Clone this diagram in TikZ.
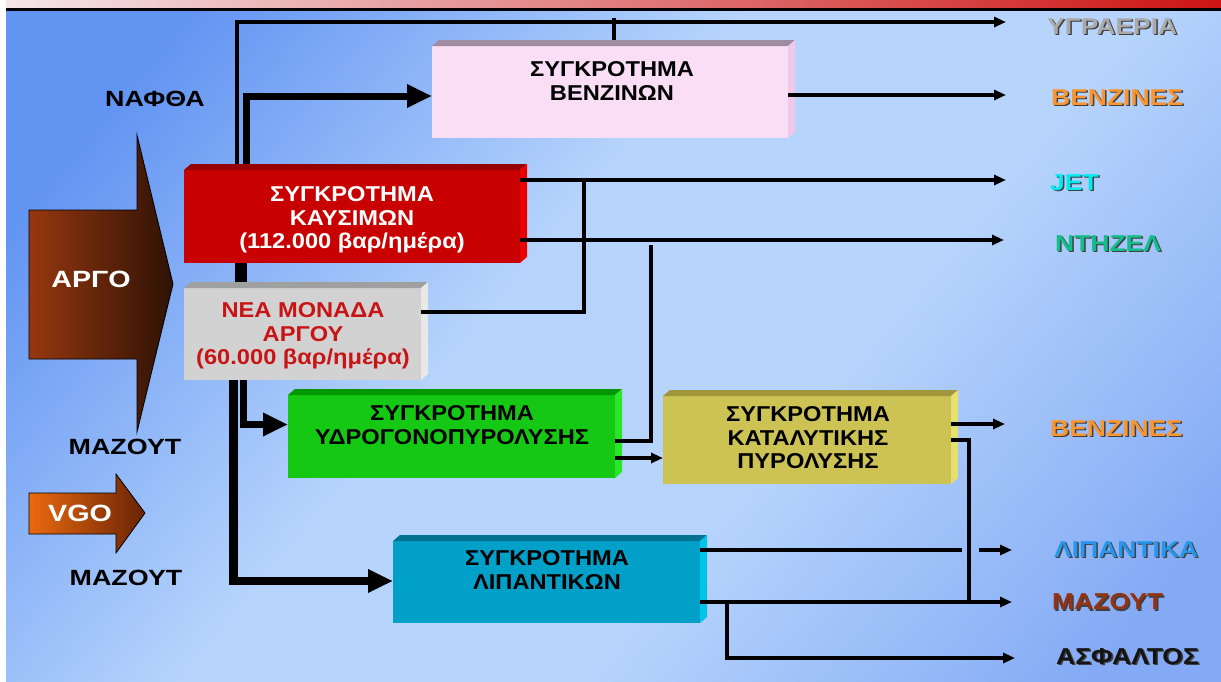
\documentclass[tikz,border=0pt]{standalone}
\usepackage{fontspec}
\setmainfont{Liberation Sans}
\newfontfamily\boxfont{Liberation Sans}[FakeStretch=1.1]
\newfontfamily\lfont{Liberation Sans}[FakeStretch=1.22]
\newfontfamily\rfont{Liberation Sans}[FakeStretch=1.15]
\usetikzlibrary{arrows.meta,calc}
\definecolor{bgA}{RGB}{98,148,242}
\definecolor{bgB}{RGB}{182,212,252}
\definecolor{bgC}{RGB}{132,170,245}
\pgfdeclarehorizontalshading{bgshade}{100bp}{color(0bp)=(bgA); color(22bp)=(bgA); color(44bp)=(bgB); color(60bp)=(bgB); color(80bp)=(bgC); color(100bp)=(bgC)}
\definecolor{stripL}{RGB}{245,230,232}
\definecolor{stripR}{RGB}{205,20,20}
\definecolor{argoL}{RGB}{150,55,15}
\definecolor{argoR}{RGB}{45,18,5}
\definecolor{vgoL}{RGB}{235,105,15}
\definecolor{vgoR}{RGB}{105,35,5}
\definecolor{benzF}{RGB}{250,222,246}
\definecolor{benzT}{RGB}{160,140,160}
\definecolor{benzS}{RGB}{240,200,235}
\definecolor{kausF}{RGB}{200,0,0}
\definecolor{kausT}{RGB}{150,0,0}
\definecolor{kausS}{RGB}{235,0,0}
\definecolor{neaF}{RGB}{210,210,210}
\definecolor{neaT}{RGB}{160,160,160}
\definecolor{neaS}{RGB}{232,232,232}
\definecolor{neaTxt}{RGB}{200,20,20}
\definecolor{hydF}{RGB}{20,200,20}
\definecolor{hydT}{RGB}{0,150,0}
\definecolor{hydS}{RGB}{40,230,40}
\definecolor{katF}{RGB}{205,195,85}
\definecolor{katT}{RGB}{160,150,60}
\definecolor{katS}{RGB}{230,225,110}
\definecolor{lipF}{RGB}{0,160,200}
\definecolor{lipT}{RGB}{0,115,145}
\definecolor{lipS}{RGB}{0,195,230}
\definecolor{cGas}{RGB}{170,170,170}
\definecolor{cBenz}{RGB}{250,150,50}
\definecolor{cJet}{RGB}{0,235,240}
\definecolor{cDsl}{RGB}{20,190,140}
\definecolor{cLip}{RGB}{40,150,235}
\definecolor{cMaz}{RGB}{150,50,20}
\definecolor{cAsf}{RGB}{20,20,20}
\newcommand{\mycube}[8]{%
  \node[cubefront, fill=#6, minimum width=#4, minimum height=#5] (#1) at (#2,#3) {};
  \fill[#7] (#1.north west) -- ++(7,-6) -- ($(#1.north east)+(7,-6)$) -- (#1.north east) -- cycle;
  \fill[#8] (#1.north east) -- ($(#1.north east)+(7,-6)$) -- ($(#1.south east)+(7,-6)$) -- (#1.south east) -- cycle;
}
\newcommand{\outlbl}[5]{%
  \node[rlbl, text=black!75, anchor=base west] (#1s) at (#2+1.5,#3+1.5) {#5};
  \node[rlbl, text=#4, anchor=base west] (#1) at (#2,#3) {#5};
}
\begin{document}
\begin{tikzpicture}[x=1pt,y=-1pt,
  fline/.style={line width=3.5pt, black},
  farr/.style={fline, -{Triangle[length=12pt,width=10pt]}},
  bline/.style={line width=7pt, black},
  barr/.style={bline, -{Triangle[length=25pt,width=22pt]}},
  cubefront/.style={rectangle, draw=none, inner sep=0pt, outer sep=0pt},
  boxtxt/.style={font=\boxfont\bfseries\fontsize{21.5}{23.5}\selectfont, align=center, inner sep=0pt},
  lbl/.style={font=\lfont\bfseries\fontsize{22}{24}\selectfont, inner sep=0pt},
  biglbl/.style={font=\lfont\bfseries\fontsize{23.5}{26}\selectfont, inner sep=0pt, text=white},
  rlbl/.style={font=\rfont\bfseries\fontsize{23}{25}\selectfont, inner sep=0pt}
]
\useasboundingbox (0,0) rectangle (1221,681);
\fill[white] (0,0) rectangle (1221,681);
\shade[shading=bgshade, shading angle=-40] (6,10) rectangle (1221,681);
\shade[left color=stripL, right color=stripR] (6,0) rectangle (1221,8);
\draw[line width=3pt] (6,9) -- (1221,9);

% input arrows
\shadedraw[left color=argoL, right color=argoR, draw=black, line width=0.8pt]
  (29,210) -- (137,210) -- (137,135) -- (173,284) -- (137,432) -- (137,359) -- (29,359) -- cycle;
\node[biglbl] (argo) at (91,279) {ΑΡΓΟ};
\shadedraw[left color=vgoL, right color=vgoR, draw=black, line width=0.8pt]
  (29,493) -- (116,493) -- (116,474) -- (145,513) -- (116,553) -- (116,534) -- (29,534) -- cycle;
\node[biglbl] (vgo) at (80,513) {VGO};

% boxes
\mycube{benz}{610}{92}{356}{92}{benzF}{benzT}{benzS}
\mycube{kaus}{352}{216.5}{336}{93}{kausF}{kausT}{kausS}
\mycube{nea}{302.5}{334}{237}{92}{neaF}{neaT}{neaS}
\mycube{hyd}{451.5}{436.5}{327}{83}{hydF}{hydT}{hydS}
\mycube{kat}{807}{440}{288}{88}{katF}{katT}{katS}
\mycube{lip}{546.5}{582}{307}{82}{lipF}{lipT}{lipS}

\node[boxtxt] (benzTx) at (612,81) {ΣΥΓΚΡΟΤΗΜΑ\\ΒΕΝΖΙΝΩΝ};
\node[boxtxt, text=white] (kausTx) at (352,220) {ΣΥΓΚΡΟΤΗΜΑ\\ΚΑΥΣΙΜΩΝ\\(112.000 βαρ/ημέρα)};
\node[boxtxt, text=neaTxt] (neaTx) at (303,336) {ΝΕΑ ΜΟΝΑΔΑ\\ΑΡΓΟΥ\\(60.000 βαρ/ημέρα)};
\node[boxtxt] (hydTx) at (452,425) {ΣΥΓΚΡΟΤΗΜΑ\\ΥΔΡΟΓΟΝΟΠΥΡΟΛΥΣΗΣ};
\node[boxtxt] (katTx) at (808,438) {ΣΥΓΚΡΟΤΗΜΑ\\ΚΑΤΑΛΥΤΙΚΗΣ\\ΠΥΡΟΛΥΣΗΣ};
\node[boxtxt] (lipTx) at (547,570) {ΣΥΓΚΡΟΤΗΜΑ\\ΛΙΠΑΝΤΙΚΩΝ};

% free ends
\coordinate (gasEnd) at (1006,22);
\coordinate (benzEnd) at (1006,95);
\coordinate (jetEnd) at (1006,180);
\coordinate (dslEnd) at (1004,240);
\coordinate (hydUp) at (651,245);
\coordinate (benz2End) at (1005,424);
\coordinate (katDown) at (969,602);
\coordinate (lipGapA) at (962,550);
\coordinate (lipGapB) at (979,550);
\coordinate (lipEnd) at (1012,550);
\coordinate (mazEnd) at (1012,602);
\coordinate (asfEnd) at (1015,658);

% connectors
\draw[farr] ($(kaus.north west)+(53,-6)$) |- (gasEnd);
\draw[fline] ($(benz.north)+(4,-6)$) -- ++(0,-22);
\draw[barr] ($(kaus.north west)+(62,-6)$) |- ($(benz.west)+(0,4)$);
\draw[line width=12pt] ($(kaus.south west)+(57,0)$) -- ($(nea.north west)+(57,-6)$);
\draw[barr, line width=8.5pt] ($(nea.south west)+(49.5,0)$) |- ($(lip.west)+(0,-1)$);
\draw[barr] ($(nea.south west)+(59.5,0)$) |- ($(hyd.west)+(0,-12)$);

\draw[farr] ($(benz.east)+(0,3)$) -- (benzEnd);
\draw[farr] ($(kaus.north east)+(0,10)$) -- (jetEnd);
\draw[farr] ($(kaus.south east)+(0,-23)$) -- (dslEnd);
\draw[fline] ($(nea.east)+(0,-22)$) -| ($(kaus.north east)+(64,10)$);
\draw[fline] ($(hyd.east)+(0,4.5)$) -| (hydUp);
\draw[farr] ($(hyd.east)+(0,21.5)$) -- ($(kat.west)+(0,18)$);
\draw[farr] ($(kat.east)+(0,-16)$) -- (benz2End);
\draw[fline] (kat.east) -| (katDown);
\draw[fline] ($(lip.east)+(0,-32)$) -- (lipGapA);
\draw[farr] (lipGapB) -- (lipEnd);
\draw[farr] ($(lip.east)+(0,20)$) -- (mazEnd);
\draw[farr] ($(lip.east)+(27,20)$) |- (asfEnd);

% left labels
\node[lbl] (naftha) at (155,99) {ΝΑΦΘΑ};
\node[lbl] (maz1) at (125,447) {ΜΑΖΟΥΤ};
\node[lbl] (maz2) at (126,578) {ΜΑΖΟΥΤ};

% right labels
\outlbl{lGas}{1047}{34}{cGas}{ΥΓΡΑΕΡΙΑ}
\outlbl{lBenz}{1051}{105}{cBenz}{ΒΕΝΖΙΝΕΣ}
\outlbl{lJet}{1050}{190}{cJet}{JET}
\outlbl{lDsl}{1055}{251}{cDsl}{ΝΤΗΖΕΛ}
\outlbl{lBenzB}{1050}{436}{cBenz}{ΒΕΝΖΙΝΕΣ}
\outlbl{lLip}{1054}{557}{cLip}{ΛΙΠΑΝΤΙΚΑ}
\outlbl{lMaz}{1052}{609.5}{cMaz}{ΜΑΖΟΥΤ}
\outlbl{lAsf}{1056}{664}{cAsf}{ΑΣΦΑΛΤΟΣ}
\end{tikzpicture}
\end{document}
